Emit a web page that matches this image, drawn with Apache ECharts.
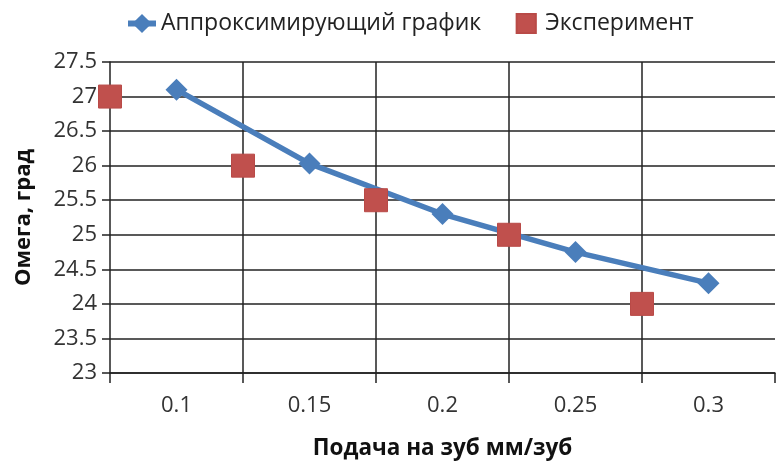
<!DOCTYPE html>
<html><head><meta charset="utf-8">
<script src="https://cdn.jsdelivr.net/npm/echarts@6/dist/echarts.min.js"></script>
<style>html,body{margin:0;padding:0;background:#fff}#c{width:779px;height:463px}</style>
</head><body><div id="c"></div>
<script>
const xLabels = ['0.1', '0.15', '0.2', '0.25', '0.3'];
const approxValues = [27.1, 26.03, 25.3, 24.75, 24.3];
const expCategories = ['0.075', '0.125', '0.175', '0.225', '0.275', '0.325'];
const expValues = [27, 26, 25.5, 25, 24, null];
const seriesNames = ['Аппроксимирующий график', 'Эксперимент'];
const xTitle = 'Подача на зуб мм/зуб';
const yTitle = 'Омега, град';

const FONT = 'Open Sans';
const chart = echarts.init(document.getElementById('c'), null, {renderer: 'canvas'});
chart.setOption({
  animation: false,
  textStyle: {fontFamily: FONT},
  legend: {
    top: 7, left: 120, itemGap: 28, itemWidth: 28, itemHeight: 24,
    lineStyle: {width: 6},
    textStyle: {fontFamily: FONT, fontSize: 23, color: '#222'},
    data: seriesNames
  },
  grid: {left: 110, right: 4, top: 62, bottom: 90, containLabel: false, outerBoundsMode: 'none'},
  xAxis: [{
    type: 'category', data: xLabels, boundaryGap: true,
    axisLine: {show: true, lineStyle: {color: '#222', width: 1.5}},
    axisTick: {show: true, length: 10, interval: 0, lineStyle: {color: '#222', width: 1.5}},
    axisLabel: {fontFamily: FONT, fontSize: 22, color: '#333', margin: 22},
    splitLine: {show: false},
    name: xTitle, nameLocation: 'middle', nameGap: 64,
    nameTextStyle: {fontFamily: FONT, fontSize: 22.5, fontWeight: 'bold', color: '#111'}
  }, {
    type: 'category', data: expCategories, boundaryGap: false, position: 'bottom',
    axisLine: {show: false}, axisTick: {show: false}, axisLabel: {show: false},
    splitLine: {show: true, interval: function (i) { return i >= 1 && i <= 4; },
      lineStyle: {color: '#222', width: 1.5}}
  }],
  yAxis: {
    type: 'value', min: 23, max: 27.5, interval: 0.5,
    axisLine: {show: true, lineStyle: {color: '#222', width: 1.5}},
    axisTick: {show: true, length: 8, lineStyle: {color: '#222', width: 1.5}},
    axisLabel: {fontFamily: FONT, fontSize: 22, color: '#333', margin: 13, padding: [6, 0, 0, 0]},
    splitLine: {show: true, lineStyle: {color: '#222', width: 1.5}},
    name: yTitle, nameLocation: 'middle', nameGap: 75, nameRotate: 90,
    nameTextStyle: {fontFamily: FONT, fontSize: 22, fontWeight: 'bold', color: '#111'}
  },
  series: [{
    name: seriesNames[0], type: 'line', xAxisIndex: 0, data: approxValues,
    symbol: 'diamond', symbolSize: 22, showAllSymbol: true,
    lineStyle: {color: '#4A7EBB', width: 5.5},
    itemStyle: {color: '#4A7EBB'}, z: 3
  }, {
    name: seriesNames[1], type: 'line', xAxisIndex: 1, data: expValues,
    symbol: 'rect', symbolSize: 23, showAllSymbol: true,
    lineStyle: {width: 0, opacity: 0},
    itemStyle: {color: '#C0504D', borderColor: '#B94A47', borderWidth: 1}, z: 4
  }]
});
</script></body></html>
